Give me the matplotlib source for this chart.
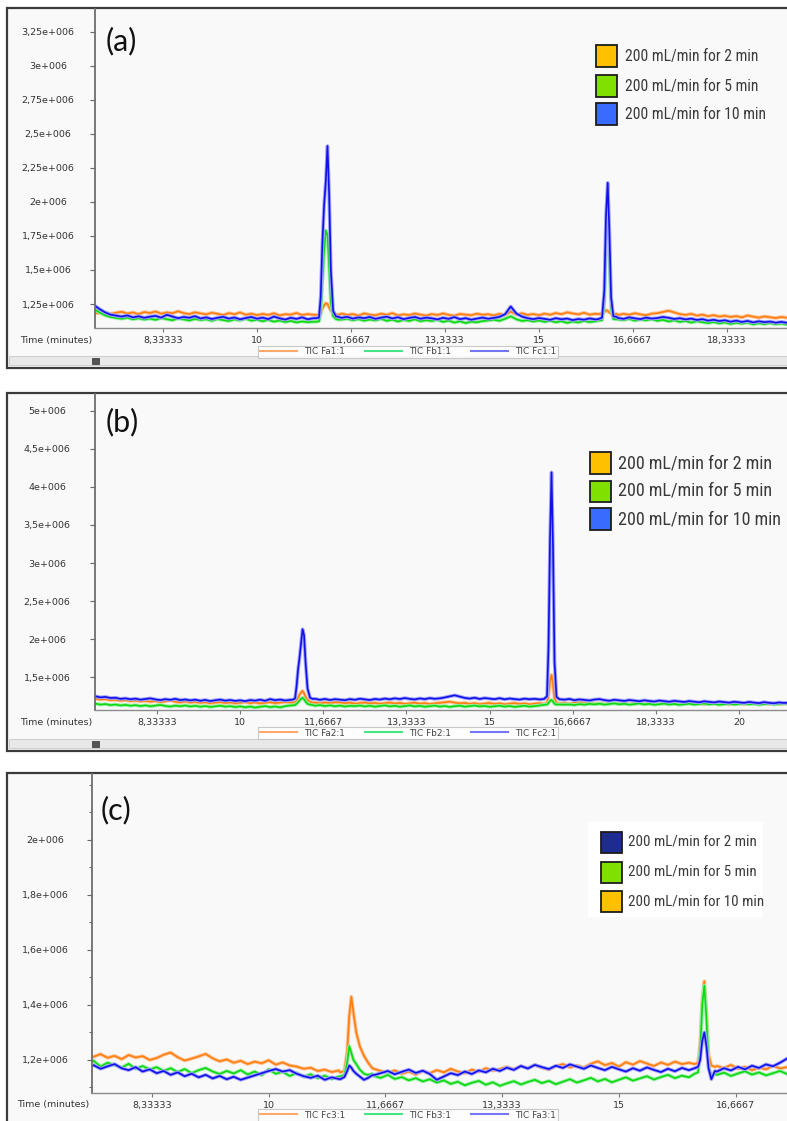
import numpy as np
import matplotlib
matplotlib.use('Agg')
import matplotlib.pyplot as plt
from matplotlib.patches import Rectangle
from matplotlib.lines import Line2D
from matplotlib.ticker import FixedLocator, FuncFormatter, MultipleLocator
from matplotlib import font_manager

# ---------------- data (values in 1e6 counts, sampled every 0.1 min) ----------------
# panel (a): baseline traces starting at 7.1 min
a_t0 = 7.1
a_orange = [1.185, 1.182, 1.190, 1.178, 1.186, 1.193, 1.180, 1.188, 1.176, 1.191,
            1.184, 1.195, 1.179, 1.188, 1.182, 1.197, 1.183, 1.176, 1.189, 1.181,
            1.174, 1.186, 1.178, 1.169, 1.183, 1.175, 1.188, 1.171, 1.179, 1.168,
            1.177, 1.170, 1.182, 1.166, 1.175, 1.172, 1.184, 1.169, 1.176, 1.171,
            1.168, 1.178, 1.165, 1.174, 1.180, 1.170, 1.176, 1.164, 1.181, 1.172,
            1.167, 1.179, 1.171, 1.183, 1.166, 1.174, 1.169, 1.180, 1.172, 1.165,
            1.176, 1.169, 1.181, 1.170, 1.164, 1.177, 1.172, 1.168, 1.179, 1.171,
            1.175, 1.166, 1.178, 1.169, 1.195, 1.173, 1.182, 1.170, 1.176, 1.168,
            1.179, 1.171, 1.184, 1.175, 1.189, 1.181, 1.174, 1.186, 1.172, 1.178,
            1.173, 1.180, 1.176, 1.169, 1.178, 1.171, 1.182, 1.174, 1.167, 1.179,
            1.183, 1.192, 1.201, 1.188, 1.176, 1.170, 1.178, 1.165, 1.172, 1.161,
            1.168, 1.158, 1.164, 1.155, 1.161, 1.152, 1.166, 1.157, 1.150, 1.159,
            1.153, 1.147, 1.155, 1.149]
a_green = [1.215, 1.190, 1.168, 1.155, 1.148, 1.142, 1.150, 1.138, 1.145, 1.136,
           1.143, 1.134, 1.147, 1.139, 1.131, 1.144, 1.137, 1.129, 1.141, 1.133,
           1.138, 1.127, 1.140, 1.132, 1.125, 1.137, 1.130, 1.142, 1.128, 1.135,
           1.124, 1.133, 1.121, 1.129, 1.118, 1.126, 1.115, 1.122, 1.117, 1.120,
           1.125, 1.140, 1.132, 1.145, 1.136, 1.142, 1.131, 1.139, 1.128, 1.136,
           1.130, 1.141, 1.127, 1.135, 1.122, 1.133, 1.126, 1.138, 1.124, 1.131,
           1.126, 1.134, 1.119, 1.128, 1.114, 1.123, 1.111, 1.120, 1.116, 1.125,
           1.129, 1.135, 1.127, 1.142, 1.160, 1.138, 1.126, 1.131, 1.122, 1.129,
           1.119, 1.127, 1.116, 1.124, 1.112, 1.121, 1.115, 1.126, 1.118, 1.123,
           1.130, 1.140, 1.145, 1.137, 1.132, 1.141, 1.128, 1.136, 1.131, 1.139,
           1.127, 1.134, 1.122, 1.130, 1.119, 1.126, 1.114, 1.123, 1.117, 1.110,
           1.118, 1.108, 1.115, 1.104, 1.112, 1.106, 1.114, 1.101, 1.109, 1.103,
           1.110, 1.102, 1.107, 1.099]
a_blue = [1.245, 1.215, 1.190, 1.172, 1.165, 1.158, 1.166, 1.152, 1.160, 1.149,
          1.157, 1.163, 1.150, 1.171, 1.158, 1.146, 1.155, 1.149, 1.161, 1.144,
          1.152, 1.140, 1.149, 1.156, 1.143, 1.151, 1.138, 1.147, 1.155, 1.142,
          1.150, 1.139, 1.158, 1.145, 1.136, 1.149, 1.141, 1.152, 1.138, 1.146,
          1.150, 1.160, 1.152, 1.161, 1.149, 1.156, 1.143, 1.152, 1.146, 1.155,
          1.141, 1.150, 1.157, 1.144, 1.153, 1.139, 1.148, 1.155, 1.142, 1.150,
          1.145, 1.137, 1.149, 1.141, 1.154, 1.139, 1.146, 1.135, 1.143, 1.150,
          1.142, 1.148, 1.156, 1.175, 1.232, 1.180, 1.158, 1.146, 1.139, 1.147,
          1.141, 1.134, 1.146, 1.138, 1.143, 1.132, 1.140, 1.135, 1.144, 1.137,
          1.150, 1.160, 1.155, 1.148, 1.141, 1.152, 1.145, 1.139, 1.150, 1.143,
          1.147, 1.155, 1.149, 1.140, 1.146, 1.137, 1.143, 1.133, 1.139, 1.128,
          1.134, 1.125, 1.131, 1.120, 1.128, 1.118, 1.126, 1.115, 1.123, 1.117,
          1.121, 1.113, 1.119, 1.112]
a_p1_t = [11.05, 11.10, 11.13, 11.16, 11.19, 11.22, 11.25, 11.28, 11.31, 11.35, 11.40, 11.45]
a_p1_orange = [1.170, 1.172, 1.185, 1.215, 1.240, 1.256, 1.250, 1.225, 1.200, 1.182, 1.175, 1.170]
a_p1_green = [1.120, 1.123, 1.180, 1.420, 1.640, 1.790, 1.760, 1.520, 1.260, 1.160, 1.140, 1.135]
a_p1_blue = [1.146, 1.150, 1.300, 1.700, 1.975, 2.150, 2.410, 2.050, 1.500, 1.200, 1.160, 1.155]
a_p2_t = [16.05, 16.12, 16.16, 16.19, 16.22, 16.25, 16.28, 16.32, 16.38]
a_p2_orange = [1.176, 1.180, 1.190, 1.205, 1.200, 1.188, 1.178, 1.175, 1.178]
a_p2_green = [1.128, 1.132, 1.250, 1.700, 1.920, 1.600, 1.220, 1.140, 1.138]
a_p2_blue = [1.139, 1.150, 1.350, 1.900, 2.140, 1.780, 1.300, 1.160, 1.155]

# panel (b): baseline traces starting at 7.0 min
b_t0 = 7.0
b_orange = [1.225, 1.218, 1.206, 1.212, 1.198, 1.204, 1.191, 1.199, 1.186, 1.194,
            1.182, 1.190, 1.178, 1.187, 1.174, 1.183, 1.196, 1.177, 1.170, 1.181,
            1.168, 1.176, 1.163, 1.171, 1.158, 1.167, 1.174, 1.161, 1.169, 1.157,
            1.165, 1.172, 1.160, 1.168, 1.156, 1.164, 1.171, 1.159, 1.166, 1.175,
            1.168, 1.170, 1.172, 1.170, 1.168, 1.165, 1.158, 1.168, 1.160, 1.171,
            1.170, 1.158, 1.165, 1.152, 1.161, 1.168, 1.155, 1.163, 1.150, 1.159,
            1.166, 1.154, 1.162, 1.149, 1.158, 1.165, 1.152, 1.160, 1.147, 1.156,
            1.163, 1.170, 1.178, 1.165, 1.157, 1.162, 1.150, 1.158, 1.145, 1.154,
            1.161, 1.149, 1.157, 1.144, 1.153, 1.160, 1.148, 1.156, 1.143, 1.152,
            1.158, 1.150, 1.155, 1.160, 1.156, 1.160, 1.152, 1.163, 1.170, 1.158,
            1.165, 1.152, 1.160, 1.147, 1.156, 1.163, 1.151, 1.158, 1.146, 1.155,
            1.162, 1.149, 1.157, 1.145, 1.153, 1.160, 1.148, 1.156, 1.144, 1.152,
            1.159, 1.147, 1.155, 1.143, 1.151, 1.158, 1.146, 1.154, 1.142, 1.150,
            1.157, 1.145, 1.153, 1.164, 1.150, 1.157, 1.146, 1.154, 1.143, 1.151,
            1.148]
b_green = [1.165, 1.152, 1.140, 1.147, 1.134, 1.141, 1.129, 1.137, 1.125, 1.133,
           1.121, 1.130, 1.118, 1.127, 1.136, 1.122, 1.115, 1.126, 1.119, 1.128,
           1.116, 1.124, 1.112, 1.121, 1.109, 1.118, 1.126, 1.113, 1.120, 1.108,
           1.117, 1.105, 1.114, 1.102, 1.111, 1.120, 1.107, 1.115, 1.104, 1.119,
           1.128, 1.130, 1.135, 1.130, 1.128, 1.125, 1.134, 1.121, 1.130, 1.118,
           1.127, 1.115, 1.124, 1.120, 1.128, 1.116, 1.125, 1.113, 1.122, 1.130,
           1.117, 1.124, 1.112, 1.121, 1.129, 1.116, 1.124, 1.112, 1.120, 1.127,
           1.114, 1.122, 1.110, 1.119, 1.126, 1.113, 1.121, 1.128, 1.116, 1.123,
           1.111, 1.119, 1.126, 1.114, 1.122, 1.110, 1.118, 1.125, 1.113, 1.120,
           1.128, 1.116, 1.124, 1.131, 1.138, 1.140, 1.142, 1.135, 1.146, 1.139,
           1.150, 1.143, 1.152, 1.140, 1.148, 1.156, 1.144, 1.151, 1.139, 1.147,
           1.155, 1.142, 1.150, 1.138, 1.146, 1.153, 1.141, 1.149, 1.137, 1.145,
           1.152, 1.140, 1.148, 1.155, 1.143, 1.150, 1.138, 1.146, 1.153, 1.141,
           1.149, 1.156, 1.144, 1.151, 1.139, 1.147, 1.154, 1.142, 1.150, 1.157,
           1.145]
b_blue = [1.262, 1.248, 1.235, 1.241, 1.226, 1.230, 1.215, 1.222, 1.210, 1.218,
          1.205, 1.214, 1.222, 1.208, 1.199, 1.211, 1.203, 1.216, 1.198, 1.207,
          1.195, 1.204, 1.190, 1.201, 1.186, 1.197, 1.205, 1.192, 1.200, 1.188,
          1.196, 1.185, 1.199, 1.192, 1.204, 1.190, 1.212, 1.198, 1.206, 1.194,
          1.201, 1.215, 1.220, 1.210, 1.205, 1.216, 1.203, 1.214, 1.200, 1.211,
          1.205, 1.198, 1.212, 1.203, 1.217, 1.208, 1.200, 1.214, 1.206, 1.219,
          1.210, 1.222, 1.213, 1.226, 1.215, 1.208, 1.221, 1.212, 1.225, 1.216,
          1.222, 1.234, 1.248, 1.262, 1.245, 1.228, 1.219, 1.230, 1.214, 1.226,
          1.218, 1.211, 1.224, 1.209, 1.220, 1.212, 1.206, 1.218, 1.210, 1.216,
          1.208, 1.213, 1.210, 1.210, 1.210, 1.205, 1.214, 1.198, 1.208, 1.201,
          1.194, 1.206, 1.212, 1.199, 1.190, 1.203, 1.195, 1.188, 1.200, 1.192,
          1.184, 1.196, 1.187, 1.180, 1.193, 1.185, 1.177, 1.189, 1.181, 1.174,
          1.186, 1.178, 1.170, 1.183, 1.175, 1.168, 1.180, 1.172, 1.165, 1.177,
          1.169, 1.162, 1.175, 1.166, 1.159, 1.172, 1.163, 1.157, 1.168, 1.161,
          1.166]
b_p1_t = [11.05, 11.10, 11.13, 11.16, 11.19, 11.22, 11.25, 11.28, 11.31, 11.35, 11.40, 11.45]
b_p1_orange = [1.165, 1.170, 1.190, 1.230, 1.270, 1.300, 1.320, 1.290, 1.240, 1.200, 1.175, 1.165]
b_p1_green = [1.130, 1.135, 1.150, 1.170, 1.195, 1.215, 1.230, 1.210, 1.180, 1.150, 1.140, 1.135]
b_p1_blue = [1.205, 1.220, 1.380, 1.600, 1.760, 1.950, 2.130, 2.050, 1.700, 1.350, 1.230, 1.215]
b_p2_t = [16.09, 16.15, 16.18, 16.21, 16.24, 16.27, 16.30, 16.34, 16.40]
b_p2_orange = [1.150, 1.160, 1.260, 1.450, 1.530, 1.400, 1.220, 1.160, 1.155]
b_p2_green = [1.138, 1.140, 1.160, 1.190, 1.200, 1.180, 1.150, 1.140, 1.142]
b_p2_blue = [1.213, 1.250, 1.900, 3.300, 4.190, 3.200, 1.700, 1.240, 1.210]

# panel (c): baseline traces starting at 7.4 min
c_t0 = 7.4
c_orange = [1.205, 1.212, 1.221, 1.208, 1.215, 1.203, 1.218, 1.209, 1.214, 1.200,
            1.207, 1.219, 1.227, 1.210, 1.198, 1.205, 1.213, 1.222, 1.206, 1.195,
            1.202, 1.190, 1.197, 1.185, 1.194, 1.188, 1.199, 1.183, 1.191, 1.180,
            1.176, 1.168, 1.172, 1.160, 1.165, 1.156, 1.162, 1.158, 1.300, 1.250,
            1.200, 1.168, 1.160, 1.153, 1.162, 1.150, 1.158, 1.147, 1.160, 1.152,
            1.163, 1.155, 1.168, 1.158, 1.152, 1.165, 1.157, 1.170, 1.161, 1.167,
            1.175, 1.166, 1.178, 1.170, 1.182, 1.172, 1.165, 1.177, 1.185, 1.173,
            1.180, 1.172, 1.186, 1.195, 1.181, 1.189, 1.176, 1.192, 1.183, 1.196,
            1.187, 1.178, 1.191, 1.182, 1.194, 1.185, 1.190, 1.180, 1.200, 1.200,
            1.178, 1.170, 1.182, 1.168, 1.175, 1.163, 1.172, 1.166, 1.179, 1.169,
            1.174]
c_green = [1.185, 1.197, 1.176, 1.190, 1.181, 1.172, 1.186, 1.168, 1.178, 1.165,
           1.174, 1.160, 1.170, 1.156, 1.167, 1.152, 1.163, 1.171, 1.158, 1.149,
           1.160, 1.151, 1.163, 1.147, 1.158, 1.145, 1.166, 1.150, 1.157, 1.142,
           1.153, 1.139, 1.148, 1.134, 1.143, 1.131, 1.140, 1.145, 1.200, 1.180,
           1.150, 1.142, 1.135, 1.146, 1.131, 1.138, 1.126, 1.134, 1.122, 1.130,
           1.118, 1.126, 1.113, 1.121, 1.108, 1.117, 1.124, 1.110, 1.119, 1.106,
           1.115, 1.123, 1.111, 1.120, 1.128, 1.116, 1.124, 1.112, 1.121, 1.130,
           1.118, 1.126, 1.135, 1.122, 1.131, 1.119, 1.128, 1.137, 1.125, 1.133,
           1.141, 1.129, 1.138, 1.146, 1.134, 1.143, 1.137, 1.148, 1.200, 1.200,
           1.146, 1.154, 1.142, 1.151, 1.159, 1.147, 1.155, 1.144, 1.152, 1.160,
           1.149]
c_blue = [1.172, 1.181, 1.168, 1.177, 1.185, 1.170, 1.163, 1.174, 1.158, 1.166,
          1.152, 1.160, 1.146, 1.155, 1.141, 1.150, 1.137, 1.146, 1.133, 1.142,
          1.130, 1.139, 1.128, 1.136, 1.144, 1.152, 1.160, 1.167, 1.158, 1.163,
          1.150, 1.141, 1.135, 1.143, 1.128, 1.137, 1.131, 1.138, 1.170, 1.150,
          1.130, 1.145, 1.152, 1.160, 1.148, 1.157, 1.165, 1.153, 1.161, 1.149,
          1.128, 1.140, 1.152, 1.145, 1.158, 1.149, 1.162, 1.155, 1.168, 1.160,
          1.172, 1.164, 1.178, 1.169, 1.182, 1.174, 1.167, 1.179, 1.171, 1.184,
          1.176, 1.168, 1.180, 1.171, 1.163, 1.175, 1.166, 1.158, 1.170, 1.161,
          1.173, 1.164, 1.156, 1.168, 1.159, 1.171, 1.163, 1.175, 1.200, 1.200,
          1.158, 1.170, 1.162, 1.175, 1.166, 1.179, 1.171, 1.184, 1.177, 1.190,
          1.205]
c_p1_t = [11.02, 11.08, 11.12, 11.15, 11.18, 11.21, 11.25, 11.30, 11.36, 11.42, 11.48]
c_p1_orange = [1.155, 1.160, 1.230, 1.360, 1.430, 1.370, 1.300, 1.250, 1.215, 1.190, 1.170]
c_p1_green = [1.140, 1.145, 1.190, 1.250, 1.225, 1.200, 1.185, 1.165, 1.150, 1.145, 1.150]
c_p1_blue = [1.130, 1.138, 1.160, 1.180, 1.172, 1.160, 1.150, 1.140, 1.128, 1.135, 1.145]
c_p2_t = [16.08, 16.13, 16.16, 16.19, 16.22, 16.25, 16.28, 16.32, 16.37]
c_p2_orange = [1.185, 1.190, 1.260, 1.420, 1.486, 1.380, 1.220, 1.180, 1.175]
c_p2_green = [1.150, 1.155, 1.230, 1.400, 1.470, 1.350, 1.180, 1.140, 1.150]
c_p2_blue = [1.170, 1.175, 1.200, 1.270, 1.300, 1.250, 1.170, 1.130, 1.160]

# ticks
a_yticks = [1.25e6, 1.5e6, 1.75e6, 2e6, 2.25e6, 2.5e6, 2.75e6, 3e6, 3.25e6]
b_yticks = [1.5e6, 2e6, 2.5e6, 3e6, 3.5e6, 4e6, 4.5e6, 5e6]
c_yticks = [1.2e6, 1.4e6, 1.6e6, 1.8e6, 2e6]
x_ticks = [8.33333, 10, 11.6667, 13.3333, 15, 16.6667, 18.3333, 20]

# legend texts
leg_labels = ['200 mL/min for 2 min', '200 mL/min for 5 min', '200 mL/min for 10 min']
a_names = ['TIC Fa1:1', 'TIC Fb1:1', 'TIC Fc1:1']
b_names = ['TIC Fa2:1', 'TIC Fb2:1', 'TIC Fc2:1']
c_names = ['TIC Fc3:1', 'TIC Fb3:1', 'TIC Fa3:1']

# ---------------- styling ----------------
ORANGE, GREEN, BLUE = '#ff7f10', '#10d810', '#1010e8'
HALO = {ORANGE: '#ffc295', GREEN: '#95f0a5', BLUE: '#a0a0ff'}
MINI = {ORANGE: '#ffaa6a', GREEN: '#45e585', BLUE: '#7575f5'}

names_avail = {f.name for f in font_manager.fontManager.ttflist}
NARROW = 'DejaVu Sans'
for cand in ['Liberation Sans Narrow', 'Roboto Condensed', 'Noto Sans Condensed',
             'Open Sans Condensed', 'DejaVu Sans Condensed']:
    if cand in names_avail:
        NARROW = cand
        break
TAGFONT = 'Lato' if 'Lato' in names_avail else 'DejaVu Sans'

W, H = 787, 1121
fig = plt.figure(figsize=(W / 100, H / 100), dpi=100)
renderer = fig.canvas.get_renderer()


def px_rect(x0, y0, x1, y1, **kw):
    r = Rectangle((x0 / W, 1 - y1 / H), (x1 - x0) / W, (y1 - y0) / H,
                  transform=fig.transFigure, **kw)
    fig.add_artist(r)
    return r


def fmt_y(v, pos):
    return ('%g' % (v / 1e6)).replace('.', ',') + 'e+006'


def fmt_x(v, pos):
    return ('%.6g' % v).replace('.', ',')


def trace(t0, base, peaks):
    t = t0 + 0.1 * np.arange(len(base))
    y = np.array(base, dtype=float)
    for pt, pv in peaks:
        keep = (t < pt[0]) | (t > pt[-1])
        t = np.concatenate([t[keep], pt])
        y = np.concatenate([y[keep], pv])
        order = np.argsort(t)
        t, y = t[order], y[order]
    return t, y * 1e6


def panel_frame(y0, y1, scroll=None):
    px_rect(7, y0, 800, y1, facecolor='#f9f9f9', edgecolor='#3a3a3a', lw=1.6, zorder=-5)
    if scroll is not None:
        px_rect(9, scroll, 800, scroll + 9, facecolor='#e8e8e8', edgecolor='#c8c8c8', lw=0.6, zorder=-4)
        px_rect(92, scroll + 2, 99, scroll + 8, facecolor='#555555', edgecolor='#333333', lw=0.5, zorder=-3)


def make_axes(x0, y0, x1, y1, xlim, ylim, yticks, ylab_cx):
    ax = fig.add_axes([x0 / W, 1 - y1 / H, (x1 - x0) / W, (y1 - y0) / H])
    ax.set_facecolor('none')
    ax.set_xlim(xlim)
    ax.set_ylim(ylim)
    ax.yaxis.set_major_locator(FixedLocator(yticks))
    ax.xaxis.set_major_locator(FixedLocator(x_ticks))
    ax.yaxis.set_major_formatter(FuncFormatter(fmt_y))
    ax.xaxis.set_major_formatter(FuncFormatter(fmt_x))
    for s in ['top', 'right']:
        ax.spines[s].set_visible(False)
    ax.spines['left'].set_color('#6e6e6e')
    ax.spines['left'].set_linewidth(1.3)
    ax.spines['bottom'].set_color('#8c8c8c')
    ax.spines['bottom'].set_linewidth(1.0)
    pad_px = x0 - 5 - ylab_cx
    ax.tick_params(axis='y', length=3.6, width=0.8, color='#666666', pad=pad_px * 0.72,
                   labelsize=6.8, labelcolor='#333333')
    ax.tick_params(axis='x', length=3, width=0.8, color='#777777', pad=2.5,
                   labelsize=6.8, labelcolor='#333333')
    plt.setp(ax.get_yticklabels(), ha='center')
    fig.text((x0 - 39) / W, 1 - (y1 + 12) / H, 'Time (minutes)', fontsize=6.8,
             color='#333333', ha='center', va='center')
    return ax


def draw_traces(ax, series):
    for t, v, col in series:
        ax.plot(t, v, color=HALO[col], lw=2.6, solid_joinstyle='round')
        ax.plot(t, v, color=col, lw=1.2, solid_joinstyle='round')


def big_legend(x_sq, rows, colors, size, text_x, text_w):
    texts = []
    for yc, col, lab in zip(rows, colors, leg_labels):
        px_rect(x_sq, yc - size / 2, x_sq + size, yc + size / 2,
                facecolor=col, edgecolor='#1c1c1c', lw=1.3, zorder=4)
        texts.append(fig.text(text_x / W, 1 - yc / H, lab, fontsize=12, family=NARROW,
                              fontstretch='condensed', color='#3a3a3a',
                              ha='left', va='center', zorder=5))
    # scale the font so that the longest label spans the same width as in the screenshot
    widest = max(t.get_window_extent(renderer).width for t in texts)
    for t in texts:
        t.set_fontsize(12 * text_w / widest)


def mini_legend(names, colors, cy):
    handles = [Line2D([], [], color=MINI[c], lw=1.5) for c in colors]
    leg = fig.legend(handles, names, loc='center', bbox_to_anchor=(408 / W, 1 - cy / H),
                     ncol=3, fontsize=6.4, frameon=True, fancybox=False,
                     handlelength=4.2, columnspacing=2.2, handletextpad=0.8,
                     borderpad=0.2, labelcolor='#444444')
    leg.get_frame().set_edgecolor('#bdbdbd')
    leg.get_frame().set_linewidth(0.8)
    return leg


# ---------------- panel (a) ----------------
panel_frame(8, 368, scroll=356)
ax_a = make_axes(95, 9, 787, 328, (7.127, 19.40), (1.074e6, 3.416e6), a_yticks, 48)
draw_traces(ax_a, [
    (*trace(a_t0, a_orange, [(a_p1_t, a_p1_orange), (a_p2_t, a_p2_orange)]), ORANGE),
    (*trace(a_t0, a_green, [(a_p1_t, a_p1_green), (a_p2_t, a_p2_green)]), GREEN),
    (*trace(a_t0, a_blue, [(a_p1_t, a_p1_blue), (a_p2_t, a_p2_blue)]), BLUE),
])
fig.text(106 / W, 1 - 41 / H, '(a)', fontsize=22, family=TAGFONT, color='#111111',
         ha='left', va='center')
big_legend(596, [56, 86, 114], ['#ffc000', '#80e000', '#3a6bff'], 21, 625, 141)
mini_legend(a_names, [ORANGE, GREEN, BLUE], 352)

# ---------------- panel (b) ----------------
panel_frame(393, 751, scroll=739)
ax_b = make_axes(95, 394, 787, 710, (7.09, 20.96), (1.069e6, 5.22e6), b_yticks, 47)
draw_traces(ax_b, [
    (*trace(b_t0, b_orange, [(b_p1_t, b_p1_orange), (b_p2_t, b_p2_orange)]), ORANGE),
    (*trace(b_t0, b_green, [(b_p1_t, b_p1_green), (b_p2_t, b_p2_green)]), GREEN),
    (*trace(b_t0, b_blue, [(b_p1_t, b_p1_blue), (b_p2_t, b_p2_blue)]), BLUE),
])
fig.text(106 / W, 1 - 422 / H, '(b)', fontsize=22, family=TAGFONT, color='#111111',
         ha='left', va='center')
big_legend(590, [463, 491, 519], ['#ffc000', '#80e000', '#3a6bff'], 21, 618, 164)
mini_legend(b_names, [ORANGE, GREEN, BLUE], 733)

# ---------------- panel (c) ----------------
panel_frame(773, 1135)
ax_c = make_axes(92, 774, 787, 1093, (7.477, 17.40), (1.08e6, 2.239e6), c_yticks, 45)
ax_c.yaxis.set_minor_locator(MultipleLocator(0.1e6))
ax_c.tick_params(axis='y', which='minor', length=2.5, width=0.7, color='#666666')
draw_traces(ax_c, [
    (*trace(c_t0, c_orange, [(c_p1_t, c_p1_orange), (c_p2_t, c_p2_orange)]), ORANGE),
    (*trace(c_t0, c_green, [(c_p1_t, c_p1_green), (c_p2_t, c_p2_green)]), GREEN),
    (*trace(c_t0, c_blue, [(c_p1_t, c_p1_blue), (c_p2_t, c_p2_blue)]), BLUE),
])
fig.text(101 / W, 1 - 810 / H, '(c)', fontsize=22, family=TAGFONT, color='#111111',
         ha='left', va='center')
px_rect(588, 822, 763, 917, facecolor='white', edgecolor='none', zorder=3)
big_legend(601, [842, 872, 901], ['#1f2c8f', '#80e000', '#ffc000'], 21, 628, 136)
mini_legend(c_names, [ORANGE, GREEN, BLUE], 1115)

fig.savefig('out.png', dpi=100)
